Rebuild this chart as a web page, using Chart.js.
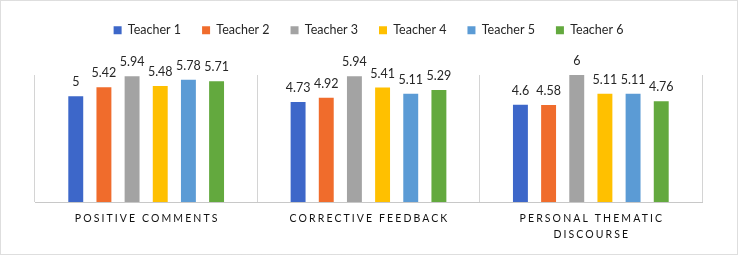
<!DOCTYPE html>
<html>
<head>
<meta charset="utf-8">
<script src="https://cdn.jsdelivr.net/npm/chart.js@4.4.0/dist/chart.umd.min.js"></script>
<style>
  html, body { margin: 0; padding: 0; background: #fff; }
  #wrap { width: 739px; height: 256px; }
</style>
</head>
<body>
<div id="wrap"><canvas id="chart" width="739" height="256"></canvas></div>
<script>
// --- data ---
const categories = [['POSITIVE COMMENTS'], ['CORRECTIVE FEEDBACK'], ['PERSONAL THEMATIC', 'DISCOURSE']];
const seriesNames = ['Teacher 1', 'Teacher 2', 'Teacher 3', 'Teacher 4', 'Teacher 5', 'Teacher 6'];
const teacher1 = [5, 4.73, 4.6];
const teacher2 = [5.42, 4.92, 4.58];
const teacher3 = [5.94, 5.94, 6];
const teacher4 = [5.48, 5.41, 5.11];
const teacher5 = [5.78, 5.11, 5.11];
const teacher6 = [5.71, 5.29, 4.76];
const seriesColors = ['#3d67c9', '#f06c2c', '#a3a3a3', '#ffc000', '#5b9bd5', '#63a93e'];

const allSeries = [teacher1, teacher2, teacher3, teacher4, teacher5, teacher6];

// --- plugins ---
// frame around the whole picture
const frame = {
    id: 'frame',
    beforeDraw(chart) {
        const ctx = chart.ctx;
        ctx.save();
        ctx.fillStyle = '#fff';
        ctx.fillRect(0, 0, chart.width, chart.height);
        ctx.strokeStyle = '#bdbdbd';
        ctx.lineWidth = 1;
        ctx.setLineDash([1, 1]);
        ctx.strokeRect(0.5, 0.5, chart.width - 2, chart.height - 2);
        ctx.restore();
    }
};

// room between legend and plot
const legendGap = {
    id: 'legendGap',
    beforeInit(chart) {
        const fit = chart.legend.fit;
        chart.legend.fit = function () {
            fit.bind(chart.legend)();
            this.height = 72;
        };
    }
};

// value labels above bars
const valueLabels = {
    id: 'valueLabels',
    afterDatasetsDraw(chart) {
        const ctx = chart.ctx;
        ctx.save();
        ctx.font = '12.5px Lato';
        ctx.fillStyle = '#262626';
        ctx.textAlign = 'center';
        ctx.textBaseline = 'middle';
        chart.data.datasets.forEach((ds, i) => {
            chart.getDatasetMeta(i).data.forEach((bar, j) => {
                ctx.fillText(String(ds.data[j]), bar.x, bar.y - 14);
            });
        });
        ctx.restore();
    }
};

// spaced category names under the axis
const categoryLabels = {
    id: 'categoryLabels',
    afterDraw(chart) {
        const ctx = chart.ctx;
        const xScale = chart.scales.x;
        ctx.save();
        ctx.font = '10.5px Lato';
        ctx.letterSpacing = '2.1px';
        ctx.fillStyle = '#111';
        ctx.textAlign = 'center';
        ctx.textBaseline = 'middle';
        categories.forEach((lines, i) => {
            const x = xScale.getPixelForValue(i);
            lines.forEach((line, k) => {
                ctx.fillText(line, x + 1, xScale.bottom + 17 + k * 16);
            });
        });
        ctx.restore();
    }
};

new Chart(document.getElementById('chart'), {
    type: 'bar',
    data: {
        labels: categories.map(c => c.join(' ')),
        datasets: seriesNames.map((name, i) => ({
            label: name,
            data: allSeries[i],
            backgroundColor: seriesColors[i],
            borderWidth: 0,
            barPercentage: 0.53,
            categoryPercentage: 0.76
        }))
    },
    options: {
        responsive: false,
        animation: false,
        layout: { padding: { top: 3, left: 35, right: 37, bottom: 54 } },
        scales: {
            x: {
                grid: { display: true, color: '#d4d4d4', drawTicks: false, offset: true },
                border: { display: true, color: '#c8c8c8' },
                ticks: { display: false }
            },
            y: {
                display: false,
                min: 0,
                max: 6
            }
        },
        plugins: {
            legend: {
                position: 'top',
                labels: {
                    boxWidth: 8,
                    boxHeight: 8,
                    padding: 21,
                    color: '#262626',
                    font: { family: 'Lato', size: 12.5 }
                }
            },
            tooltip: { enabled: false }
        }
    },
    plugins: [frame, legendGap, valueLabels, categoryLabels]
});
</script>
</body>
</html>
